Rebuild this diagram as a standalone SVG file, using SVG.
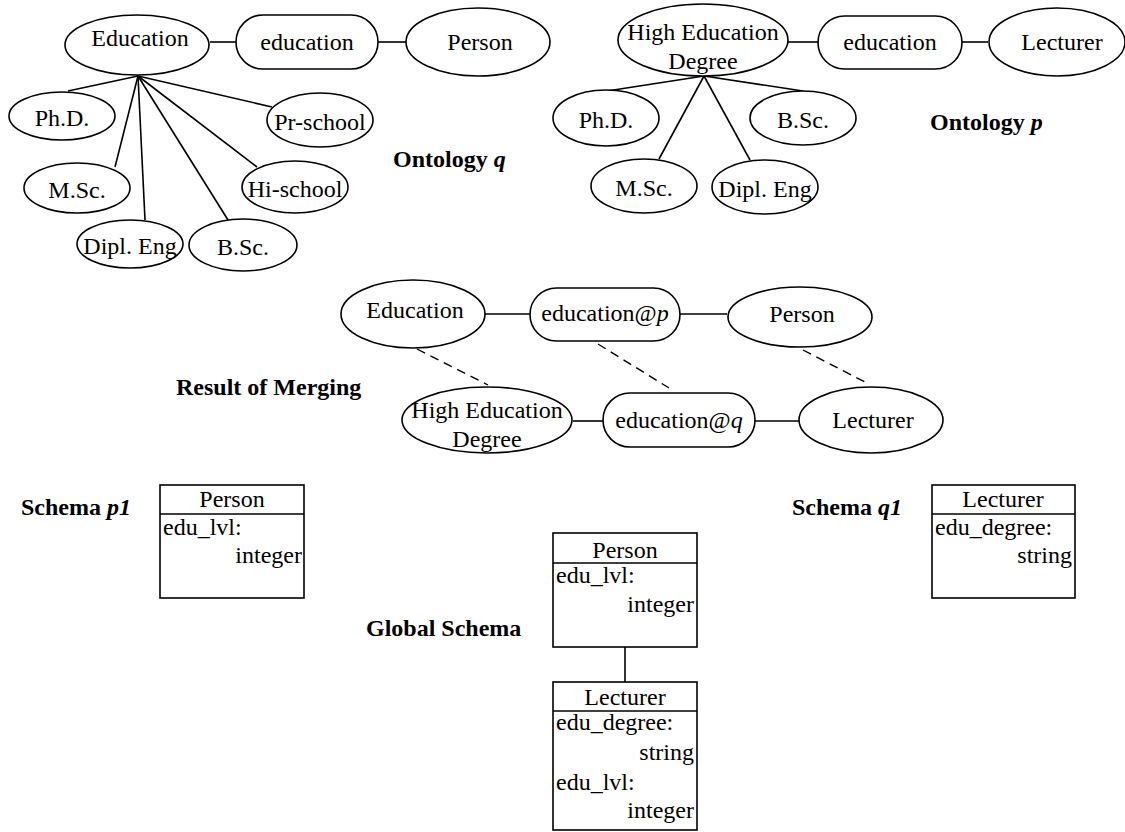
<svg xmlns="http://www.w3.org/2000/svg" width="1125" height="832" viewBox="0 0 1125 832">
<style>
.n{fill:#fff;stroke:#000;stroke-width:1.6}
.c{stroke:#000;stroke-width:1.6;fill:none}
.d{stroke:#000;stroke-width:1.4;fill:none;stroke-dasharray:9 6}
.t{font-family:"Liberation Serif","Times New Roman",serif;font-size:24px;fill:#000}
.m{text-anchor:middle}
.r{text-anchor:end}
.b{font-weight:bold}
.i{font-style:italic}
</style>
<rect width="1125" height="832" fill="#fff"/>
<g id="connectors">
<line class="c" x1="210" y1="42" x2="236" y2="42"/>
<line class="c" x1="378" y1="42" x2="406" y2="42"/>
<line class="c" x1="138" y1="76" x2="68" y2="91"/>
<line class="c" x1="138" y1="76" x2="115" y2="167"/>
<line class="c" x1="138" y1="76" x2="145" y2="220"/>
<line class="c" x1="138" y1="76" x2="228" y2="220"/>
<line class="c" x1="138" y1="76" x2="257" y2="167"/>
<line class="c" x1="138" y1="76" x2="272" y2="107"/>
<line class="c" x1="788" y1="42" x2="818" y2="42"/>
<line class="c" x1="962" y1="42" x2="988" y2="42"/>
<line class="c" x1="704" y1="76" x2="607" y2="91"/>
<line class="c" x1="704" y1="76" x2="803" y2="91"/>
<line class="c" x1="704" y1="76" x2="659" y2="159"/>
<line class="c" x1="704" y1="76" x2="750" y2="160"/>
<line class="c" x1="485" y1="314" x2="530" y2="314"/>
<line class="c" x1="680" y1="314" x2="727" y2="314"/>
<line class="c" x1="573" y1="421" x2="603" y2="421"/>
<line class="c" x1="755" y1="421" x2="800" y2="421"/>
<line class="d" x1="417" y1="349" x2="488" y2="385"/>
<line class="d" x1="598" y1="344" x2="669" y2="388"/>
<line class="d" x1="803" y1="350" x2="865" y2="382"/>
<line class="c" x1="625" y1="647" x2="625" y2="682"/>
</g>
<g id="q-Education"><ellipse class="n" cx="137" cy="45" rx="72" ry="30"/><text class="t m" x="140" y="46">Education</text></g>
<g id="q-education"><rect class="n" x="236" y="15" width="142" height="54" rx="27"/><text class="t m" x="307" y="50">education</text></g>
<g id="q-Person"><ellipse class="n" cx="478" cy="42" rx="72" ry="34"/><text class="t m" x="480" y="50">Person</text></g>
<g id="q-PhD"><ellipse class="n" cx="62" cy="116" rx="53" ry="24"/><text class="t m" x="62" y="126">Ph.D.</text></g>
<g id="q-MSc"><ellipse class="n" cx="77" cy="188" rx="53" ry="25"/><text class="t m" x="77" y="198">M.Sc.</text></g>
<g id="q-Dipl"><ellipse class="n" cx="130" cy="244" rx="53" ry="24"/><text class="t m" x="130" y="254">Dipl. Eng</text></g>
<g id="q-BSc"><ellipse class="n" cx="243" cy="245" rx="54" ry="26"/><text class="t m" x="243" y="255">B.Sc.</text></g>
<g id="q-Hi"><ellipse class="n" cx="295" cy="187" rx="53" ry="26"/><text class="t m" x="295" y="197">Hi-school</text></g>
<g id="q-Pr"><ellipse class="n" cx="320" cy="120" rx="53" ry="27"/><text class="t m" x="320" y="130">Pr-school</text></g>
<text class="t b" x="393" y="167">Ontology <tspan class="i">q</tspan></text>
<g id="p-HED"><ellipse class="n" cx="703" cy="40" rx="85" ry="36"/><text class="t m" x="703" y="40">High Education</text><text class="t m" x="703" y="69">Degree</text></g>
<g id="p-education"><rect class="n" x="818" y="16" width="144" height="53" rx="26.5"/><text class="t m" x="890" y="50">education</text></g>
<g id="p-Lecturer"><ellipse class="n" cx="1057" cy="42" rx="68" ry="34"/><text class="t m" x="1062" y="50">Lecturer</text></g>
<g id="p-PhD"><ellipse class="n" cx="606" cy="118" rx="53" ry="28"/><text class="t m" x="606" y="128">Ph.D.</text></g>
<g id="p-BSc"><ellipse class="n" cx="803" cy="118" rx="53" ry="27"/><text class="t m" x="803" y="128">B.Sc.</text></g>
<g id="p-MSc"><ellipse class="n" cx="644" cy="186" rx="53" ry="27"/><text class="t m" x="644" y="196">M.Sc.</text></g>
<g id="p-Dipl"><ellipse class="n" cx="765" cy="187" rx="53" ry="27"/><text class="t m" x="765" y="197">Dipl. Eng</text></g>
<text class="t b" x="930" y="130">Ontology <tspan class="i">p</tspan></text>
<g id="m-Education"><ellipse class="n" cx="413" cy="314" rx="72" ry="34"/><text class="t m" x="415" y="318">Education</text></g>
<g id="m-educationp"><rect class="n" x="530" y="288" width="150" height="53" rx="26.5"/><text class="t m" x="605" y="321">education@<tspan class="i">p</tspan></text></g>
<g id="m-Person"><ellipse class="n" cx="800" cy="317" rx="72" ry="30"/><text class="t m" x="802" y="322">Person</text></g>
<g id="m-HED"><ellipse class="n" cx="487" cy="420" rx="85" ry="33"/><text class="t m" x="487" y="418">High Education</text><text class="t m" x="487" y="447">Degree</text></g>
<g id="m-educationq"><rect class="n" x="603" y="393" width="152" height="54" rx="27"/><text class="t m" x="679" y="428">education@<tspan class="i">q</tspan></text></g>
<g id="m-Lecturer"><ellipse class="n" cx="871" cy="420" rx="72" ry="33"/><text class="t m" x="873" y="428">Lecturer</text></g>
<text class="t b" x="176" y="395">Result of Merging</text>
<text class="t b" x="21" y="515">Schema <tspan class="i">p1</tspan></text>
<g id="s-p1-Person"><rect class="n" x="160" y="485" width="144" height="113"/><line class="c" x1="160" y1="514" x2="304" y2="514"/><text class="t m" x="232" y="507">Person</text><text class="t" x="163" y="535">edu_lvl:</text><text class="t r" x="302" y="563">integer</text></g>
<text class="t b" x="792" y="515">Schema <tspan class="i">q1</tspan></text>
<g id="s-q1-Lecturer"><rect class="n" x="932" y="485" width="143" height="113"/><line class="c" x1="932" y1="514" x2="1075" y2="514"/><text class="t m" x="1003" y="507">Lecturer</text><text class="t" x="935" y="535">edu_degree:</text><text class="t r" x="1072" y="563">string</text></g>
<text class="t b" x="366" y="636">Global Schema</text>
<g id="g-Person"><rect class="n" x="553" y="533" width="144" height="114"/><line class="c" x1="553" y1="563" x2="697" y2="563"/><text class="t m" x="625" y="558">Person</text><text class="t" x="556" y="583">edu_lvl:</text><text class="t r" x="694" y="612">integer</text></g>
<g id="g-Lecturer"><rect class="n" x="553" y="682" width="144" height="148"/><line class="c" x1="553" y1="711" x2="697" y2="711"/><text class="t m" x="625" y="705">Lecturer</text><text class="t" x="556" y="730">edu_degree:</text><text class="t r" x="694" y="760">string</text><text class="t" x="556" y="790">edu_lvl:</text><text class="t r" x="694" y="818">integer</text></g>
</svg>
